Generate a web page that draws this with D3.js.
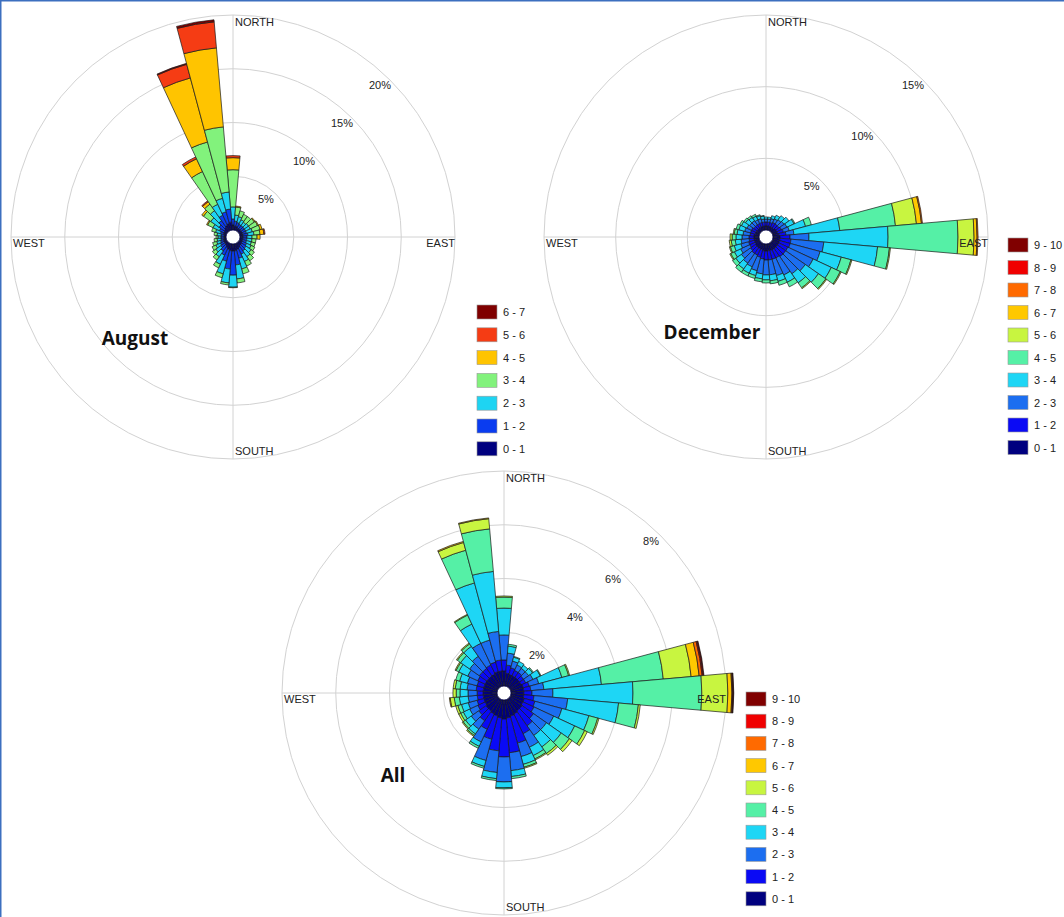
<!DOCTYPE html>
<html><head><meta charset="utf-8">
<script src="https://cdn.jsdelivr.net/npm/d3@7"></script>
<style>html,body{margin:0;padding:0;background:#fff;}svg{display:block;}</style>
</head><body>
<svg id="chart" width="1064" height="917"></svg>
<script>
// ---------- DATA ----------
const directions = [0,10,20,30,40,50,60,70,80,90,100,110,120,130,140,150,160,170,180,190,200,210,220,230,240,250,260,270,280,290,300,310,320,330,340,350];

const augClasses = ["0 - 1","1 - 2","2 - 3","3 - 4","4 - 5","5 - 6","6 - 7"];
const augColors = ["#00007f","#0a3cf0","#1ed4f2","#82f27c","#ffc400","#f53c14","#7f0000"];
const augTicks = [5,10,15,20];
const augMax = 20;
// % of time per speed class, one row per direction (0° .. 350°)
const augData = [
  [0.47,0.56,1.12,3.46,1.12,0.19,0],
  [0.37,0.47,0.56,0.75,0.09,0,0],
  [0.37,0.38,0.56,0.56,0,0,0],
  [0.28,0.37,0.47,0.56,0,0,0],
  [0.28,0.37,0.38,0.65,0,0,0],
  [0.28,0.37,0.47,0.66,0.09,0,0],
  [0.28,0.37,0.47,0.75,0.09,0,0],
  [0.28,0.37,0.56,0.75,0.19,0,0],
  [0.28,0.47,0.56,0.56,0.37,0.1,0],
  [0.28,0.37,0.47,0.47,0.28,0,0],
  [0.28,0.37,0.47,0.38,0,0,0],
  [0.28,0.37,0.47,0.38,0,0,0],
  [0.28,0.47,0.46,0.38,0,0,0],
  [0.37,0.47,0.56,0.38,0,0,0],
  [0.37,0.56,0.66,0.47,0,0,0],
  [0.47,0.65,0.75,0.47,0,0,0],
  [0.56,0.84,1.03,0.47,0,0,0],
  [0.65,1.31,1.31,0.37,0,0,0],
  [0.65,2.25,1.12,0.05,0,0,0],
  [0.65,1.69,1.30,0.19,0,0,0],
  [0.56,1.12,1.22,0.37,0,0,0],
  [0.47,0.74,0.94,0.37,0,0,0],
  [0.37,0.56,0.66,0.37,0,0,0],
  [0.28,0.47,0.56,0.37,0,0,0],
  [0.28,0.37,0.47,0.38,0,0,0],
  [0.28,0.28,0.37,0.38,0,0,0],
  [0.19,0.28,0.37,0.28,0,0,0],
  [0.19,0.28,0.28,0.18,0,0,0],
  [0.19,0.28,0.37,0.28,0,0,0],
  [0.28,0.28,0.47,0.37,0,0,0],
  [0.28,0.47,0.65,0.56,0.10,0,0],
  [0.37,0.56,0.94,0.84,0.19,0,0],
  [0.47,0.74,1.13,0.74,0.28,0.1,0],
  [0.56,1.03,1.12,3.36,1.31,0.19,0],
  [0.65,1.13,1.30,5.42,6.17,1.31,0.09],
  [0.75,1.21,1.59,6.08,7.38,2.43,0.19]
];

const fullClasses = ["0 - 1","1 - 2","2 - 3","3 - 4","4 - 5","5 - 6","6 - 7","7 - 8","8 - 9","9 - 10"];
const fullColors = ["#00007f","#0a0af5","#1c6ef0","#1ed6f5","#55f0a6","#c8f540","#ffc800","#ff6a00","#f00000","#800000"];

const decTicks = [5,10,15];
const decMax = 15;
const decData = [
  [0.28,0.28,0.21,0.14],
  [0.28,0.28,0.21,0.14],
  [0.28,0.28,0.28,0.21],
  [0.28,0.35,0.28,0.28],
  [0.28,0.35,0.35,0.35],
  [0.35,0.28,0.42,0.42],
  [0.35,0.35,0.42,0.55,0.07],
  [0.35,0.42,0.42,1.18,0.42],
  [0.42,0.49,0.56,3.21,3.90,1.47,0.35,0.07],
  [0.49,0.70,1.32,5.52,4.88,1.12,0.21,0.07],
  [0.49,0.77,2.30,3.77,0.83,0.07],
  [0.49,0.77,2.16,1.53,0.70,0.07],
  [0.49,0.70,1.95,1.40,0.69,0.07],
  [0.49,0.70,1.67,1.12,0.63,0.07],
  [0.49,0.70,1.46,0.77,0.42,0.07],
  [0.49,0.63,1.32,0.56,0.35],
  [0.49,0.63,1.18,0.42,0.28],
  [0.49,0.63,1.04,0.42,0.21],
  [0.49,0.63,1.04,0.35,0.21],
  [0.49,0.56,1.04,0.35,0.21],
  [0.42,0.56,0.97,0.35,0.21],
  [0.42,0.49,0.90,0.49,0.21],
  [0.42,0.49,0.83,0.49,0.28],
  [0.42,0.42,0.77,0.48,0.28],
  [0.35,0.42,0.70,0.48,0.28,0.07],
  [0.35,0.42,0.56,0.48,0.28,0.07],
  [0.35,0.35,0.56,0.41,0.28,0.14],
  [0.35,0.35,0.49,0.42,0.27,0.14],
  [0.35,0.28,0.49,0.42,0.20,0.07],
  [0.28,0.35,0.42,0.42,0.20],
  [0.28,0.35,0.35,0.42,0.14],
  [0.28,0.28,0.35,0.35,0.14],
  [0.28,0.28,0.35,0.28,0.14],
  [0.28,0.28,0.28,0.28,0.14],
  [0.28,0.28,0.28,0.21,0.07],
  [0.28,0.28,0.21,0.21,0.03]
];

const allTicks = [2,4,6,8];
const allMax = 8;
const allData = [
  [0.56,0.41,0.93,1.00,0.41,0.04],
  [0.48,0.30,0.45,0.26,0.07],
  [0.45,0.26,0.26,0.15,0.03],
  [0.45,0.22,0.22,0.15],
  [0.45,0.22,0.19,0.14],
  [0.45,0.18,0.23,0.18,0.04],
  [0.45,0.18,0.30,0.30,0.03],
  [0.48,0.23,0.37,0.89,0.26,0.04],
  [0.48,0.26,0.49,2.15,2.31,1.04,0.30,0.11,0.04,0.03],
  [0.48,0.30,0.78,2.98,2.56,0.97,0.15,0.03,0.02,0.02],
  [0.48,0.38,1.26,1.90,0.74,0.07],
  [0.52,0.41,1.04,1.04,0.34,0.05],
  [0.52,0.45,0.81,0.86,0.41,0.11],
  [0.56,0.52,0.59,0.67,0.37,0.12],
  [0.56,0.67,0.44,0.52,0.30,0.08],
  [0.60,0.81,0.56,0.34,0.14,0.04],
  [0.63,1.04,0.52,0.30,0.11,0.04],
  [0.67,1.30,0.67,0.22,0.08],
  [0.71,1.41,0.93,0.22,0.04],
  [0.67,1.23,0.81,0.23,0.07],
  [0.63,0.89,0.82,0.23,0.07],
  [0.60,0.63,0.52,0.18,0.08],
  [0.56,0.44,0.38,0.22,0.07,0.04],
  [0.56,0.33,0.34,0.26,0.11,0.04],
  [0.52,0.30,0.33,0.26,0.11,0.08],
  [0.52,0.26,0.34,0.26,0.14,0.08],
  [0.52,0.22,0.34,0.33,0.19,0.15,0.03],
  [0.52,0.22,0.34,0.30,0.14,0.12],
  [0.52,0.26,0.34,0.26,0.18,0.08],
  [0.52,0.26,0.37,0.30,0.15],
  [0.52,0.30,0.41,0.37,0.11,0.04],
  [0.52,0.34,0.44,0.41,0.15,0.04],
  [0.52,0.34,0.55,0.45,0.11,0.04],
  [0.52,0.37,0.89,0.79,0.37,0.03],
  [0.56,0.37,0.85,2.20,1.26,0.30,0.04],
  [0.56,0.41,1.07,2.24,1.59,0.38,0.03]
];

const compassLabels = ["NORTH","EAST","SOUTH","WEST"];

// ---------- DRAWING ----------
const svg = d3.select("#chart");
const FONT = "Liberation Sans, Arial, sans-serif";

// frame
svg.append("line").attr("x1",0.75).attr("y1",0).attr("x2",0.75).attr("y2",917).attr("stroke","#3c6fbf").attr("stroke-width",1.5);
svg.append("line").attr("x1",0).attr("y1",0.75).attr("x2",1064).attr("y2",0.75).attr("stroke","#3c6fbf").attr("stroke-width",1.5);

function rose(cfg){
  const g = svg.append("g").attr("transform",`translate(${cfg.cx},${cfg.cy})`);
  const R = 222, hole = 7;
  const r = d3.scaleLinear().domain([0,cfg.max]).range([hole,R]);
  // grid
  g.selectAll("circle.grid").data(cfg.ticks).join("circle")
    .attr("r",d=>r(d)).attr("fill","none").attr("stroke","#d2d2d2").attr("stroke-width",1);
  g.append("line").attr("x1",-R).attr("x2",R).attr("y1",0).attr("y2",0).attr("stroke","#d2d2d2");
  g.append("line").attr("y1",-R).attr("y2",R).attr("x1",0).attr("x2",0).attr("stroke","#d2d2d2");

  // bars
  const arc = d3.arc();
  const half = 5*Math.PI/180;
  cfg.data.forEach((row,i)=>{
    const a = directions[i]*Math.PI/180;
    let cum = 0;
    row.forEach((v,k)=>{
      if(v<=0) return;
      const inner = r(cum); cum += v; const outer = r(cum);
      g.append("path")
        .attr("d",arc({innerRadius:inner,outerRadius:outer,startAngle:a-half,endAngle:a+half}))
        .attr("fill",cfg.colors[k]).attr("stroke","#1a1a1a").attr("stroke-width",0.7);
    });
  });
  g.append("circle").attr("r",hole).attr("fill","#fff").attr("stroke","#00004a").attr("stroke-width",0.8);

  // tick labels
  const s = Math.SQRT1_2;
  g.selectAll("text.tick").data(cfg.ticks).join("text")
    .attr("x",d=>r(d)*s-10).attr("y",d=>-r(d)*s+6)
    .attr("text-anchor","middle").attr("dominant-baseline","middle")
    .attr("font-family",FONT).attr("font-size",11).attr("fill","#222")
    .text(d=>d+"%");

  // compass labels
  const lab = (t,x,y,anchor)=>g.append("text").attr("x",x).attr("y",y).attr("text-anchor",anchor)
    .attr("font-family",FONT).attr("font-size",11).attr("fill","#222").text(t);
  lab(compassLabels[0],2,-R+11,"start");
  lab(compassLabels[2],2,R-4,"start");
  lab(compassLabels[3],-R+2,10,"start");
  lab(compassLabels[1],R,10,"end");

  // title
  svg.append("text").attr("x",cfg.tx).attr("y",cfg.ty).attr("text-anchor","middle")
    .attr("font-family","Open Sans, Liberation Sans, sans-serif").attr("font-weight","bold").attr("font-size",19)
    .attr("fill","#111").text(cfg.title);

  // legend
  const lg = svg.append("g").attr("transform",`translate(${cfg.lx},${cfg.ly})`);
  const n = cfg.classes.length;
  for(let k=n-1;k>=0;k--){
    const yy = (n-1-k)*cfg.lstep;
    lg.append("rect").attr("x",0).attr("y",yy-7).attr("width",20).attr("height",14)
      .attr("fill",cfg.colors[k]).attr("stroke","#9a9a9a").attr("stroke-width",0.6);
    lg.append("text").attr("x",26).attr("y",yy+4).attr("font-family",FONT).attr("font-size",11)
      .attr("fill","#222").text(cfg.classes[k]);
  }
}

rose({cx:233,cy:237,max:augMax,ticks:augTicks,data:augData,colors:augColors,classes:augClasses,
      title:"August",tx:135,ty:345,lx:477,ly:312,lstep:22.8});
rose({cx:766,cy:237,max:decMax,ticks:decTicks,data:decData,colors:fullColors,classes:fullClasses,
      title:"December",tx:712,ty:339,lx:1008,ly:245,lstep:22.5});
rose({cx:504,cy:693,max:allMax,ticks:allTicks,data:allData,colors:fullColors,classes:fullClasses,
      title:"All",tx:393,ty:782,lx:746,ly:699,lstep:22.2});
</script>
</body></html>
